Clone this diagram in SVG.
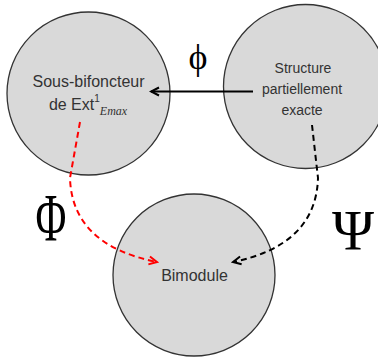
<svg xmlns="http://www.w3.org/2000/svg" width="378" height="358" viewBox="0 0 378 358">
  <style>
    .node { fill: #d9d9d9; stroke: #333333; stroke-width: 1.3; }
    .lbl { font-family: "Liberation Sans", Arial, sans-serif; fill: #333333; text-anchor: middle; }
    .greek { font-family: "Liberation Serif", "Times New Roman", serif; fill: #000000; }
    .edge { fill: none; stroke-width: 2; }
    .dash { stroke-dasharray: 6 4; }
  </style>
  <defs>
    <marker id="openBlack" viewBox="-10 -6 12 12" refX="0" refY="0" markerWidth="12" markerHeight="12" markerUnits="userSpaceOnUse" orient="auto">
      <polyline points="-8,-4 0,0 -8,4" fill="none" stroke="#000000" stroke-width="2"/>
    </marker>
    <marker id="openRed" viewBox="-10 -6 12 12" refX="0" refY="0" markerWidth="12" markerHeight="12" markerUnits="userSpaceOnUse" orient="auto">
      <polyline points="-8,-4 0,0 -8,4" fill="none" stroke="#ff0000" stroke-width="2"/>
    </marker>
  </defs>

  <!-- nodes -->
  <g id="sous-bifoncteur">
    <circle class="node" cx="88.5" cy="93.5" r="81.5"/>
    <text class="lbl" x="88.5" y="87" font-size="16">Sous-bifoncteur</text>
    <text class="lbl" x="88" y="110" font-size="16">de Ext<tspan font-size="10" dy="-8">1</tspan><tspan font-family="'Liberation Serif', 'Times New Roman', serif" font-style="italic" font-size="12" dy="13">Emax</tspan></text>
  </g>

  <g id="structure">
    <circle class="node" cx="305.5" cy="86.5" r="82"/>
    <text class="lbl" x="303" y="72.5" font-size="14">Structure</text>
    <text class="lbl" x="302" y="93.5" font-size="14">partiellement</text>
    <text class="lbl" x="302" y="115" font-size="14">exacte</text>
  </g>

  <g id="bimodule">
    <circle class="node" cx="194" cy="275" r="81"/>
    <text class="lbl" x="194.5" y="281" font-size="16">Bimodule</text>
  </g>

  <!-- connectors -->
  <g id="connectors">
    <path class="edge" d="M253,91.5 L151,91.5" stroke="#000000" marker-end="url(#openBlack)"/>
    <path class="edge dash" d="M80,122 L70,178 Q72,245 157,262" stroke="#ff0000" marker-end="url(#openRed)"/>
    <path class="edge dash" d="M312,125 L318,178 Q316,245 233,262" stroke="#000000" marker-end="url(#openBlack)"/>
  </g>

  <!-- edge labels -->
  <g id="labels">
    <text class="greek" x="198" y="69" font-size="36" text-anchor="middle">ϕ</text>
    <text class="greek" font-size="68" text-anchor="middle" transform="translate(51,240) scale(0.62,1)">Φ</text>
    <text class="greek" x="332" y="250" font-size="57">Ψ</text>
  </g>
</svg>
